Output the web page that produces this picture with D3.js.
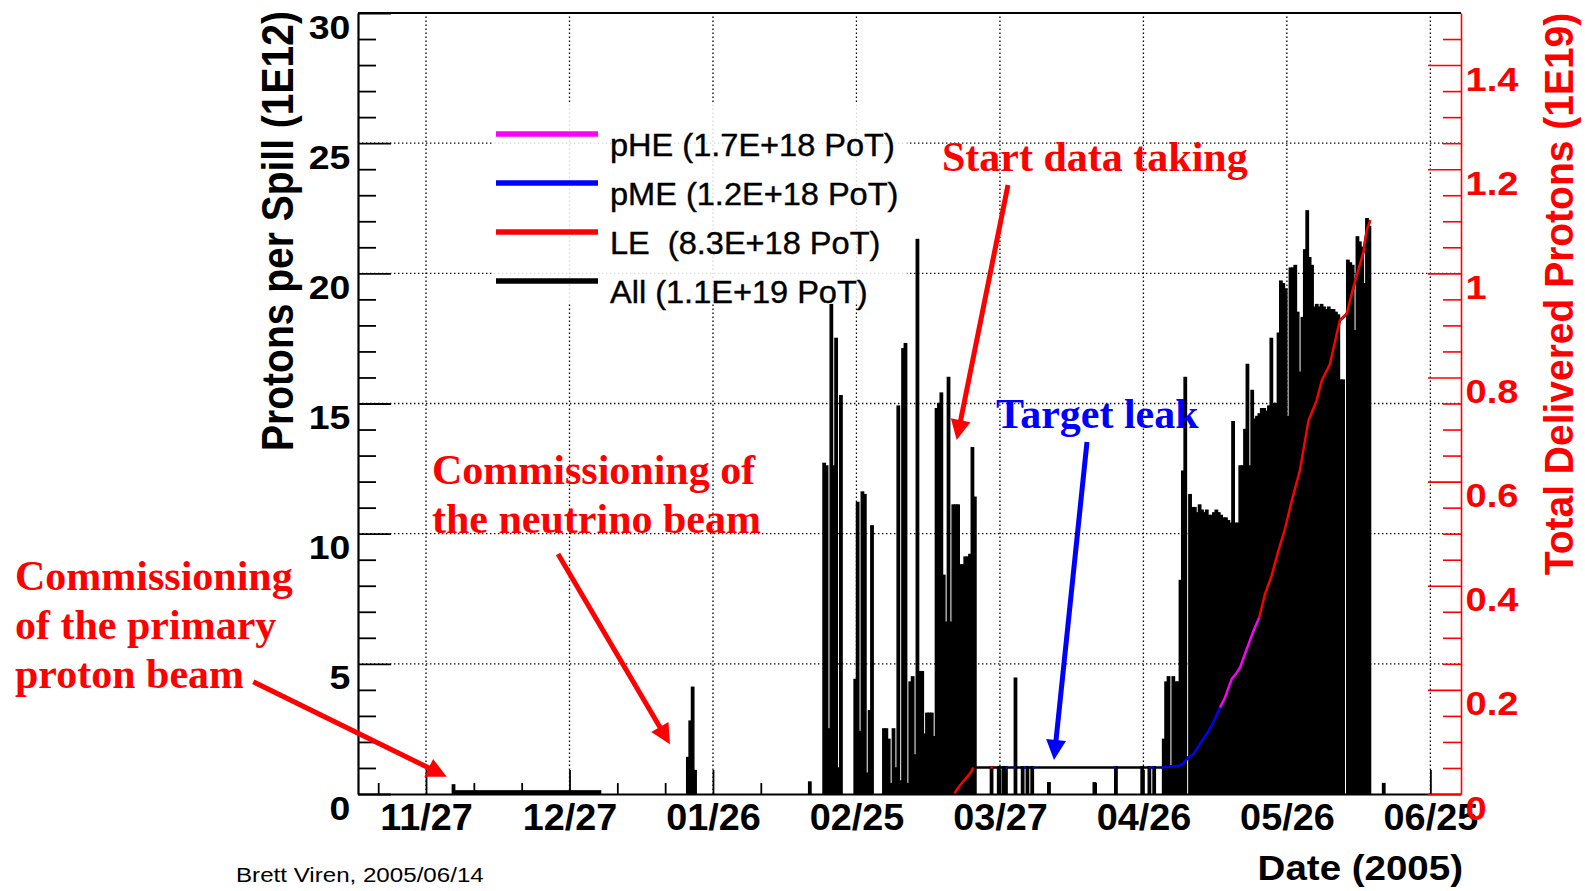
<!DOCTYPE html>
<html>
<head>
<meta charset="utf-8">
<script src="https://cdn.jsdelivr.net/npm/d3@7"></script>
<style>
  html, body { margin: 0; padding: 0; background: #fff; }
  svg { display: block; }
  text { white-space: pre; }
</style>
</head>
<body>
<svg id="chart" width="1585" height="891"></svg>
<script>
// ---------------- data ----------------
// time window of the plot (UTC)
const xStart = "2004-11-12 18:40";
const xEnd   = "2005-07-01 09:40";

// labelled date ticks (every 30 days) and the minor tick step in days
const dateTicks = ["2004-11-27", "2004-12-27", "2005-01-26", "2005-02-25",
                   "2005-03-27", "2005-04-26", "2005-05-26", "2005-06-25"];
const minorStepDays = 10;

const spillTicks = [0, 5, 10, 15, 20, 25, 30];
const totalTicks = [0, 0.2, 0.4, 0.6, 0.8, 1, 1.2, 1.4];

// protons per spill (1E12), histogram with 12 hour bins
const binHours = 12;

// primary proton beam commissioning: long runs of very low intensity [from, to, value]
const commissioningRuns = [
  ["2004-12-02 12:00", "2004-12-03 00:00", 0.35],
  ["2004-12-03 00:00", "2005-01-02 12:00", 0.12]
];

// neutrino beam commissioning, January
const janStart = "2005-01-20 12:00";
const janSpill = [1.4, 2.8, 4.1, 0.9];

// February - March running
const febStart = "2005-02-15 00:00";
const febSpill = [
  0.46, 0, 0, 0, 0, 0, 12.7, 12.6, 2.5, 18.8,
  12.6, 17.5, 1.0, 15.3, 0, 0, 0, 0, 0, 4.4,
  11.2, 2.4, 11.6, 11.5, 0.8, 3.2, 10.3, 0, 0, 0,
  0, 2.5, 2.5, 2.1, 0.4, 2.5, 1.0, 14.9, 0.5, 17.1,
  17.3, 0.4, 4.3, 4.5, 1.5, 21.3, 4.7, 4.7, 2.3, 3.1,
  3.1, 3.1, 2.2, 14.8, 15.0, 15.4, 8.4, 6.6, 16.0, 6.6,
  11.1, 11.1, 11.1, 8.8, 8.8, 9.1, 9.1, 9.2, 13.3, 11.4
];

// isolated bins during the target leak [bin start, value]
const leakSpill = [
  ["2005-03-25 00:00", 1.05], ["2005-03-26 12:00", 1.05], ["2005-03-27 12:00", 1.05],
  ["2005-03-28 00:00", 1.05], ["2005-03-30 00:00", 4.45], ["2005-03-31 12:00", 1.05],
  ["2005-04-01 12:00", 1.05], ["2005-04-02 12:00", 1.05], ["2005-04-06 00:00", 0.43],
  ["2005-04-15 12:00", 0.43], ["2005-04-20 00:00", 1.05], ["2005-04-25 12:00", 1.05]
];

// May - June running
const mayStart = "2005-04-27 00:00";
const maySpill = [
  1.05, 0, 1.05, 0, 0, 0, 2.1, 4.3, 4.5, 1.0,
  4.5, 4.3, 4.3, 8.2, 12.4, 16.0, 0, 11.5, 11.0, 11.0,
  10.8, 11.1, 10.9, 10.8, 10.9, 10.7, 10.7, 10.8, 10.9, 10.8,
  10.7, 10.6, 10.6, 10.5, 10.4, 14.3, 10.4, 10.4, 12.6, 12.6,
  14.0, 16.5, 12.6, 15.5, 14.4, 14.5, 14.6, 14.8, 14.8, 14.7,
  14.9, 17.5, 15.0, 15.0, 17.7, 19.7, 19.6, 19.4, 14.5, 20.2,
  20.2, 20.3, 18.5, 16.2, 18.3, 20.9, 22.4, 20.6, 20.3, 18.7,
  18.8, 18.7, 18.8, 18.7, 18.6, 18.7, 18.6, 18.6, 18.5, 18.4,
  15.9, 15.9, 0, 20.5, 20.4, 20.3, 17.8, 21.4, 21.2, 21.0,
  19.6, 22.1, 21.8, 0, 0, 0, 0, 0, 0.4
];

// total delivered protons (1E19); cumBeam names the beam configuration
// that delivered the protons up to each point ("" = nothing delivered)
const cumTime = [
  "2005-03-17 09:00", "2005-03-18 12:00", "2005-03-19 16:00", "2005-03-20 21:00", "2005-03-21 10:00",
  "2005-03-25 00:00", "2005-03-25 12:00", "2005-03-28 06:00", "2005-03-28 16:00",
  "2005-03-29 22:00", "2005-03-30 08:00", "2005-04-01 00:00", "2005-04-01 10:00",
  "2005-04-02 20:00", "2005-04-03 06:00", "2005-04-19 20:00", "2005-04-20 06:00",
  "2005-04-27 04:00", "2005-04-27 14:00", "2005-04-27 20:00", "2005-04-28 06:00",
  "2005-04-29 20:00", "2005-05-03 07:00", "2005-05-04 07:00", "2005-05-05 05:00",
  "2005-05-06 10:00", "2005-05-07 19:00", "2005-05-09 05:00", "2005-05-10 14:00",
  "2005-05-12 00:00", "2005-05-13 01:00", "2005-05-14 11:00", "2005-05-15 12:00",
  "2005-05-16 05:00", "2005-05-17 14:00", "2005-05-19 00:00", "2005-05-20 05:00",
  "2005-05-21 10:00", "2005-05-22 19:00", "2005-05-24 05:00", "2005-05-25 14:00",
  "2005-05-27 00:00", "2005-05-28 17:00", "2005-05-30 12:00", "2005-06-01 05:00",
  "2005-06-02 07:00", "2005-06-04 00:00", "2005-06-05 10:00", "2005-06-06 02:00",
  "2005-06-07 12:00", "2005-06-08 22:00", "2005-06-09 22:00", "2005-06-11 00:00",
  "2005-06-11 17:00", "2005-06-12 10:00"
];
const cumTotal = [
  0, 0.015, 0.028, 0.041, 0.051,
  0.051, 0.051, 0.051, 0.051,
  0.051, 0.051, 0.051, 0.051,
  0.051, 0.051, 0.051, 0.051,
  0.051, 0.051, 0.051, 0.051,
  0.051, 0.054, 0.058, 0.069,
  0.076, 0.096, 0.115, 0.137,
  0.166, 0.185, 0.221, 0.233,
  0.243, 0.278, 0.313, 0.339,
  0.384, 0.419, 0.467, 0.509,
  0.563, 0.621, 0.717, 0.756,
  0.794, 0.826, 0.884, 0.910,
  0.922, 0.974, 1.006, 1.041,
  1.083, 1.102
];
const cumBeam = [
  "", "LE", "LE", "LE", "LE",
  "", "LE", "", "pME",
  "", "pME", "", "pME",
  "", "pME", "", "pME",
  "", "pME", "", "pME",
  "", "pME", "pME", "pME",
  "pME", "pME", "pME", "pME",
  "pME", "pHE", "pHE", "pHE",
  "pHE", "pHE", "pHE", "pHE",
  "LE", "LE", "LE", "LE",
  "LE", "LE", "LE", "LE",
  "LE", "LE", "LE", "LE",
  "LE", "LE", "LE", "LE",
  "LE", "LE"
];

// legend
const legendLabels = ["pHE (1.7E+18 PoT)", "pME (1.2E+18 PoT)", "LE  (8.3E+18 PoT)", "All (1.1E+19 PoT)"];
const legendKeys   = ["pHE", "pME", "LE", "All"];
const beamColor = { pHE: "#ff00ff", pME: "#0000ff", LE: "#ff0000", All: "#000000" };

// annotation arrows: tail and head in data units [time, protons per spill]
const arrowFrom  = [["2004-10-21 21:20", 4.31], ["2004-12-24 14:20", 9.22],
                    ["2005-03-28 16:20", 23.39], ["2005-04-14 04:50", 13.52]];
const arrowTo    = [["2004-12-01 07:40", 0.665], ["2005-01-17 00:15", 1.91],
                    ["2005-03-17 23:00", 13.6], ["2005-04-07 07:10", 1.31]];
const arrowColor = ["#ff0000", "#ff0000", "#ff0000", "#0000ff"];

// ---------------- drawing ----------------
const sans  = "'Liberation Sans', Arial, Helvetica, sans-serif";
const serif = "'Liberation Serif', 'Times New Roman', Times, serif";

const parseT = d3.utcParse("%Y-%m-%d %H:%M");
const parseD = d3.utcParse("%Y-%m-%d");

const frame = { left: 358, right: 1461, top: 13, bottom: 794 };

const x  = d3.scaleUtc().domain([parseT(xStart), parseT(xEnd)]).range([frame.left, frame.right]);
const yL = d3.scaleLinear().domain([0, 30]).range([frame.bottom, frame.top]);
const yR = d3.scaleLinear().domain([0, 1.5]).range([frame.bottom, frame.top]);

const svg = d3.select("#chart");
svg.append("rect").attr("width", 1585).attr("height", 891).attr("fill", "#fff");

// grid
const grid = svg.append("g").attr("stroke", "#000").attr("stroke-width", 1.3)
  .attr("stroke-dasharray", "1.4 2.6").attr("fill", "none");
const majorDates = dateTicks.map(parseD);
grid.selectAll("line.v").data(majorDates).join("line")
  .attr("x1", d => x(d)).attr("x2", d => x(d))
  .attr("y1", frame.bottom).attr("y2", frame.top);
grid.selectAll("line.h").data(spillTicks.filter(v => v > 0 && v < 30)).join("line")
  .attr("x1", frame.left).attr("x2", frame.right)
  .attr("y1", d => yL(d)).attr("y2", d => yL(d));

// histogram bins
const binMs = binHours * 3600 * 1000;
function binSeries(start, values) {
  const t0 = +parseT(start);
  return values.map((v, i) => ({ t0: new Date(t0 + i * binMs), t1: new Date(t0 + (i + 1) * binMs), v }));
}
const bins = [
  ...commissioningRuns.map(([a, b, v]) => ({ t0: parseT(a), t1: parseT(b), v })),
  ...binSeries(janStart, janSpill),
  ...binSeries(febStart, febSpill),
  ...leakSpill.map(([t, v]) => ({ t0: parseT(t), t1: new Date(+parseT(t) + binMs), v })),
  ...binSeries(mayStart, maySpill)
].filter(d => d.v > 0);

svg.append("g").selectAll("rect").data(bins).join("rect")
  .attr("x", d => x(d.t0))
  .attr("width", d => x(d.t1) - x(d.t0))
  .attr("y", d => yL(d.v))
  .attr("height", d => yL(0) - yL(d.v))
  .attr("fill", "#000").attr("stroke", "#000").attr("stroke-width", 1.4);

// cumulative delivered protons
const cum = cumTime.map((t, i) => ({ t: parseT(t), v: cumTotal[i], beam: cumBeam[i] }));
const cumLine = d3.line().x(d => x(d.t)).y(d => yR(d.v));
svg.append("path").attr("d", cumLine(cum)).attr("fill", "none")
  .attr("stroke", beamColor.All).attr("stroke-width", 2.6);

const runs = [];
let run = null;
for (let i = 1; i < cum.length; i++) {
  const b = cum[i].beam;
  if (!b) { run = null; continue; }
  if (run && run.beam === b) run.pts.push(cum[i]);
  else { run = { beam: b, pts: [cum[i - 1], cum[i]] }; runs.push(run); }
}
svg.append("g").selectAll("path").data(runs).join("path")
  .attr("d", d => cumLine(d.pts)).attr("fill", "none")
  .attr("stroke", d => beamColor[d.beam]).attr("stroke-width", 2.4)
  .attr("stroke-linejoin", "round");

// legend box (semi-transparent, lets the grid and bars show faintly)
const legend = svg.append("g");
legend.append("rect").attr("x", 494).attr("y", 103).attr("width", 413).attr("height", 200)
  .attr("fill", "#fff").attr("fill-opacity", 0.85);

// axes
const axisLeftMajor = d3.axisLeft(yL).tickValues(spillTicks).tickSize(-33).tickSizeOuter(0).tickPadding(7);
const axisLeftMinor = d3.axisLeft(yL).tickValues(d3.range(0, 31).filter(v => v % 5 !== 0))
  .tickSize(-18).tickSizeOuter(0).tickFormat("");
const gL = svg.append("g").attr("transform", `translate(${frame.left},0)`).call(axisLeftMajor);
svg.append("g").attr("transform", `translate(${frame.left},0)`).call(axisLeftMinor).select(".domain").remove();

const minorDates = d3.utcDay.range(parseT(xStart), parseT(xEnd))
  .filter(d => Math.round((d - majorDates[0]) / 864e5) % minorStepDays === 0)
  .filter(d => !majorDates.some(m => +m === +d));
const axisBottomMajor = d3.axisBottom(x).tickValues(majorDates).tickSize(-24).tickSizeOuter(0)
  .tickFormat(d3.utcFormat("%m/%d"));
const axisBottomMinor = d3.axisBottom(x).tickValues(minorDates).tickSize(-11).tickSizeOuter(0).tickFormat("");
const gB = svg.append("g").attr("transform", `translate(0,${frame.bottom})`).call(axisBottomMajor);
svg.append("g").attr("transform", `translate(0,${frame.bottom})`).call(axisBottomMinor).select(".domain").remove();

const axisRightMajor = d3.axisRight(yR).tickValues(totalTicks).tickSize(-33).tickSizeOuter(0)
  .tickPadding(4).tickFormat(d3.format("~g"));
const axisRightMinor = d3.axisRight(yR)
  .tickValues(d3.range(1, 30).filter(i => i % 4 !== 0).map(i => i * 0.05))
  .tickSize(-18).tickSizeOuter(0).tickFormat("");
const gR = svg.append("g").attr("transform", `translate(${frame.right},0)`).call(axisRightMajor);
svg.append("g").attr("transform", `translate(${frame.right},0)`).attr("class", "rminor")
  .call(axisRightMinor).select(".domain").remove();

// axis styling
svg.selectAll(".tick line").attr("stroke-width", 1.8);
gL.select(".domain").attr("stroke-width", 2.2);
gB.select(".domain").attr("stroke-width", 2.2);
gR.select(".domain").attr("stroke", "#ff0000").attr("stroke-width", 1.6);
gR.selectAll(".tick line").attr("stroke", "#ff0000").attr("stroke-width", 1.6);
svg.selectAll(".rminor .tick line").attr("stroke", "#ff0000").attr("stroke-width", 1.6);

gL.selectAll(".tick text")
  .attr("font-family", sans).attr("font-weight", "bold").attr("font-size", 34)
  .attr("fill", "#000").attr("dy", 0).attr("y", 25).attr("x", -7)
  .attr("transform", "scale(1.1,1)");
gR.selectAll(".tick text")
  .attr("font-family", sans).attr("font-weight", "bold").attr("font-size", 34)
  .attr("fill", "#ff0000").attr("dy", 0).attr("y", 25).attr("x", 4)
  .attr("transform", "scale(1.12,1)");
gB.selectAll(".tick text")
  .attr("font-family", sans).attr("font-weight", "bold").attr("font-size", 36)
  .attr("fill", "#000").attr("dy", 0).attr("y", 36)
  .attr("transform", "scale(1.05,1)");

// top edge of the frame
svg.append("line").attr("x1", frame.left).attr("x2", frame.right)
  .attr("y1", frame.top).attr("y2", frame.top).attr("stroke", "#000").attr("stroke-width", 2.2);

// axis titles
svg.append("text").text("Protons per Spill (1E12)")
  .attr("transform", "translate(293,231) rotate(-90) scale(1,1.12)")
  .attr("text-anchor", "middle").attr("font-family", sans).attr("font-weight", "bold")
  .attr("font-size", 39).attr("fill", "#000");
svg.append("text").text("Total Delivered Protons (1E19)")
  .attr("transform", "translate(1573,294) rotate(-90) scale(1,1.04)")
  .attr("text-anchor", "middle").attr("font-family", sans).attr("font-weight", "bold")
  .attr("font-size", 39).attr("fill", "#ff0000");
svg.append("text").text("Date (2005)")
  .attr("transform", "translate(1463,880) scale(1.1,1)")
  .attr("text-anchor", "end").attr("font-family", sans).attr("font-weight", "bold")
  .attr("font-size", 35).attr("fill", "#000");
svg.append("text").text("Brett Viren, 2005/06/14")
  .attr("transform", "translate(236,882) scale(1.15,1)")
  .attr("font-family", sans).attr("font-size", 21).attr("fill", "#000");

// legend entries
legendKeys.forEach((k, i) => {
  const yy = 134 + i * 49;
  legend.append("line").attr("x1", 496).attr("x2", 598).attr("y1", yy).attr("y2", yy)
    .attr("stroke", beamColor[k]).attr("stroke-width", 5.5);
  legend.append("text").text(legendLabels[i])
    .attr("transform", `translate(610,${yy + 22}) scale(1.05,1)`)
    .attr("font-family", sans).attr("font-size", 31).attr("fill", "#000")
    .attr("stroke", "#000").attr("stroke-width", 0.4);
});

// annotation arrows
const ann = svg.append("g");
arrowFrom.forEach((f, i) => {
  const x0 = x(parseT(f[0])), y0 = yL(f[1]);
  const x1 = x(parseT(arrowTo[i][0])), y1 = yL(arrowTo[i][1]);
  const ang = Math.atan2(y1 - y0, x1 - x0);
  const headLen = 20, headHalf = 10;
  const bx = x1 - headLen * Math.cos(ang), by = y1 - headLen * Math.sin(ang);
  ann.append("line").attr("x1", x0).attr("y1", y0).attr("x2", bx + 2 * Math.cos(ang)).attr("y2", by + 2 * Math.sin(ang))
    .attr("stroke", arrowColor[i]).attr("stroke-width", 5);
  const px = -Math.sin(ang), py = Math.cos(ang);
  ann.append("path")
    .attr("d", `M${x1},${y1}L${bx + headHalf * px},${by + headHalf * py}L${bx - headHalf * px},${by - headHalf * py}Z`)
    .attr("fill", arrowColor[i]);
});

// annotation texts
const notes = [
  { lines: ["Start data taking"], x: 942, y: 171, color: "#ff0000" },
  { lines: ["Target leak"], x: 996, y: 428, color: "#0000ff" },
  { lines: ["Commissioning of", "the neutrino beam"], x: 432, y: 484, color: "#ff0000" },
  { lines: ["Commissioning", "of the primary", "proton beam"], x: 15, y: 590, color: "#ff0000" }
];
notes.forEach(n => {
  n.lines.forEach((s, j) => {
    ann.append("text").text(s).attr("x", n.x).attr("y", n.y + j * 49)
      .attr("font-family", serif).attr("font-weight", "bold").attr("font-size", 42)
      .attr("fill", n.color);
  });
});
</script>
</body>
</html>
